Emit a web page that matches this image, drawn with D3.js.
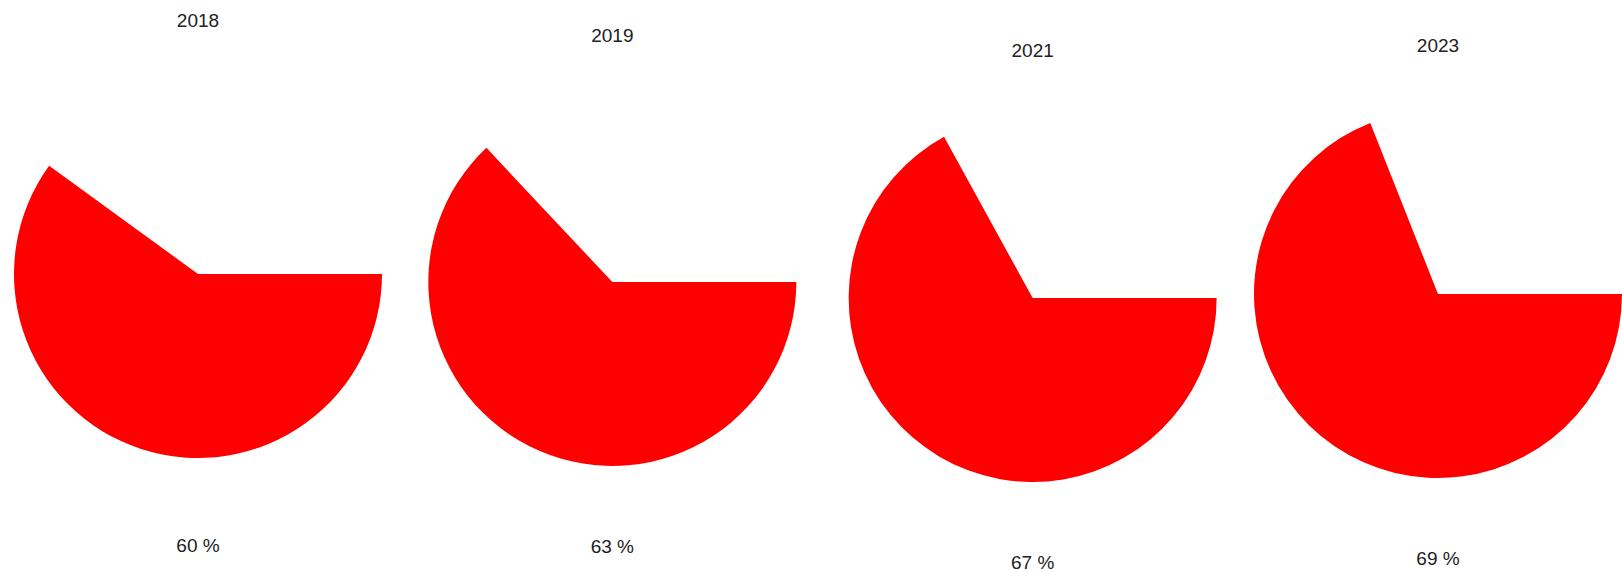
<!DOCTYPE html>
<html>
<head>
<meta charset="utf-8">
<script src="https://cdn.jsdelivr.net/npm/d3@7"></script>
<style>
  body { margin: 0; background: #fff; }
  svg { display: block; }
</style>
</head>
<body>
<svg id="pies"></svg>
<script>
// data
let years = ["2018", "2019", "2021", "2023"];
let shares = [60, 63, 67, 69];

// layout nudges, panels are not on a perfectly even grid
let panelDx = [0, 1, 8, 0];
let panelDy = [0, 8, 24, 20];
let titleDy = [-254, -247, -248, -249];
let labelDy = [271, 264, 264, 264];

function getConfig() {
  let width = 1622;
  let height = 572;
  let radius = 184;
  let baseY = 274;
  let container = d3.select("#pies")
    .attr("width", width)
    .attr("height", height);
  return { width, height, radius, baseY, container };
}

function getScales(config) {
  let x = d3.scalePoint()
    .domain(years)
    .range([198, 1438]);
  let angle = d3.scaleLinear()
    .domain([0, 100])
    .range([0, 2 * Math.PI]);
  return { x, angle };
}

function drawPies(config, scales) {
  let { container, radius, baseY } = config;
  let arc = d3.arc()
    .innerRadius(0)
    .outerRadius(radius)
    .startAngle(Math.PI / 2)
    .endAngle(d => Math.PI / 2 + scales.angle(d.value));

  let rows = years.map((y, i) => ({ year: y, value: shares[i], i }));

  let g = container.selectAll("g.pie")
    .data(rows)
    .enter()
    .append("g")
    .attr("class", "pie")
    .attr("transform", d => `translate(${scales.x(d.year) + panelDx[d.i]},${baseY + panelDy[d.i]})`);

  g.append("path")
    .attr("d", arc)
    .attr("fill", "#ff0000");

  g.append("text")
    .attr("y", d => titleDy[d.i])
    .attr("text-anchor", "middle")
    .attr("dominant-baseline", "central")
    .attr("font-family", "Liberation Sans, Arial, sans-serif")
    .attr("font-size", 19)
    .attr("fill", "#222")
    .text(d => d.year);

  g.append("text")
    .attr("y", d => labelDy[d.i])
    .attr("text-anchor", "middle")
    .attr("dominant-baseline", "central")
    .attr("font-family", "Liberation Sans, Arial, sans-serif")
    .attr("font-size", 19)
    .attr("fill", "#222")
    .text(d => d.value + " %");
}

let config = getConfig();
let scales = getScales(config);
drawPies(config, scales);
</script>
</body>
</html>
